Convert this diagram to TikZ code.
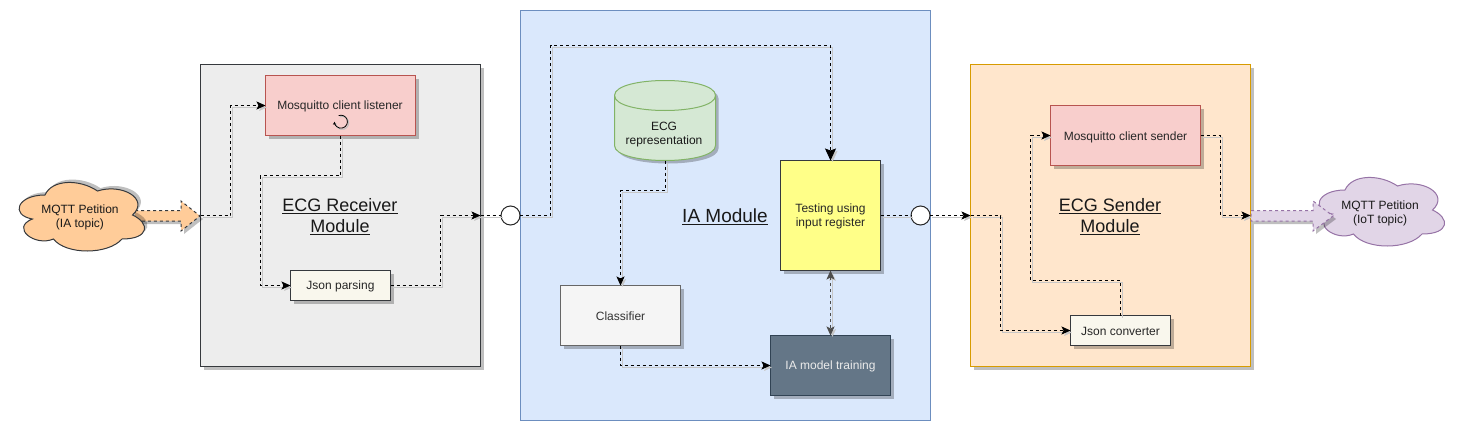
\documentclass[tikz,border=0pt]{standalone}
\usepackage{fontspec}
\setmainfont{Liberation Sans}
\usetikzlibrary{arrows.meta,shadows,calc}
\definecolor{ink}{HTML}{36393D}
\newcommand{\dn}[1]{\raisebox{-1pt}[\height][\depth]{#1}}
\tikzset{
  base/.style={draw=ink,line width=1pt,inner sep=0pt,outer sep=0pt,align=center,font=\fontsize{12}{14}\selectfont,text=black!85},
  shade/.style={drop shadow={shadow xshift=3pt,shadow yshift=-3pt,fill=black,opacity=.25}},
  modulebox/.style={base,shade},
  title/.style={align=center,font=\fontsize{18}{21}\selectfont,text=black!90,inner sep=0pt},
  conn/.style={draw=black,line width=1pt,dash pattern=on 3pt off 3pt,
    preaction={draw=black!22,transform canvas={shift={(2pt,-2pt)}}}},
  tip/.style={-{Stealth[length=9pt,width=8pt,inset=2pt]}},
  bigtip/.style={-{Stealth[length=12pt,width=11pt,inset=2pt]}},
  bothtip/.style={{Stealth[length=9pt,width=8pt,inset=2pt]}-{Stealth[length=9pt,width=8pt,inset=2pt]}},
  port/.style={circle,draw=black!85,fill=white,line width=1pt,minimum size=19pt,inner sep=0pt,outer sep=0pt},
  cloudtext/.style={align=center,font=\fontsize{12}{14}\selectfont,inner sep=0pt,text=black!90},
  blockarrow/.style={line width=1pt,dash pattern=on 3pt off 3pt},
}
\newcommand{\cloudpath}{(25,25) .. controls (5,25) and (0,50) .. (16,55)
 .. controls (0,66) and (18,90) .. (31,80)
 .. controls (40,100) and (70,100) .. (80,80)
 .. controls (100,80) and (100,60) .. (87.5,50)
 .. controls (100,30) and (80,10) .. (62.5,20)
 .. controls (50,5) and (30,5) .. (25,25) -- cycle}
\begin{document}
\begin{tikzpicture}[x=1pt,y=-1pt]
\useasboundingbox (0,0) rectangle (1461,431);
\fill[white] (0,0) rectangle (1461,431);

% module boxes
\node[modulebox,fill=black!7,minimum width=280pt,minimum height=302pt] (recv) at (340.5,215.5) {};
\node[base,fill={rgb,255:red,218;green,232;blue,252},draw={rgb,255:red,108;green,142;blue,191},minimum width=410pt,minimum height=410pt] (ia) at (725.5,215.5) {};
\node[modulebox,fill={rgb,255:red,255;green,230;blue,204},draw={rgb,255:red,215;green,155;blue,0},minimum width=280pt,minimum height=302pt] (send) at (1110.5,215.5) {};

% free ends on module borders
\coordinate (recvIn) at (200.5,215.5);
\coordinate (recvOut) at (480.5,215.5);
\coordinate (sendIn) at (970.5,215.5);
\coordinate (sendOut) at (1250.5,215.5);

% left block arrow and cloud
\fill[black,opacity=.25,shift={(3,3)}] (135,210.5) -- (181,210.5) -- (181,201) -- (200,216) -- (181,231) -- (181,221) -- (135,221) -- cycle;
\filldraw[fill={rgb,255:red,255;green,204;blue,153},draw=ink,blockarrow] (135,210.5) -- (181,210.5) -- (181,201) -- (200,216) -- (181,231) -- (181,221) -- (135,221) -- cycle;
\begin{scope}[shift={(10,175)},x=1.4pt,y=-.8pt]
 \fill[black,opacity=.25,shift={(2.1,-3.6)}] \cloudpath;
 \filldraw[fill={rgb,255:red,255;green,204;blue,153},draw=ink,line width=1pt] \cloudpath;
\end{scope}
\node[cloudtext] (cloudA) at (80,217) {MQTT Petition\\(IA topic)};

% right cloud and block arrow
\begin{scope}[shift={(1310,170)},x=1.4pt,y=-.8pt]
 \filldraw[fill={rgb,255:red,225;green,213;blue,231},draw={rgb,255:red,150;green,115;blue,166},line width=1pt] \cloudpath;
\end{scope}
\fill[black,opacity=.25,shift={(3,3)}] (1251,210.5) -- (1313,210.5) -- (1313,201) -- (1333,216) -- (1313,231) -- (1313,221) -- (1251,221) -- cycle;
\filldraw[fill={rgb,255:red,225;green,213;blue,231},draw={rgb,255:red,150;green,115;blue,166},blockarrow] (1251,210.5) -- (1313,210.5) -- (1313,201) -- (1333,216) -- (1313,231) -- (1313,221) -- (1251,221) -- cycle;
\node[cloudtext] (cloudB) at (1380,213) {MQTT Petition\\(IoT topic)};

% inner nodes of the receiver
\node[modulebox,fill={rgb,255:red,248;green,206;blue,204},draw={rgb,255:red,184;green,84;blue,80},minimum width=150pt,minimum height=60pt] (listen) at (340.5,105.5) {};
\node[font=\fontsize{12}{14}\selectfont,text=black!85,inner sep=0pt] (listenText) at (340,106.5) {Mosquitto client listener};
\node[modulebox,fill={rgb,255:red,249;green,247;blue,237},minimum width=100pt,minimum height=30pt] (json) at (340.5,285.5) {\dn{Json parsing}};
\coordinate (loopA) at (338.7,115.6);
\draw[black!25,line width=1pt,transform canvas={shift={(1.2pt,-1.2pt)}}] (loopA) arc[start angle=250,end angle=540,radius=6.5];
\draw[black,line width=.8pt,-{Stealth[length=3pt,width=3pt]}] (loopA) arc[start angle=250,end angle=540,radius=6.5];

\node[title] (recvTitle) at (340,216.5) {\underline{ECG Receiver}\\\underline{Module}};

% inner nodes of the IA module
\fill[black,opacity=.25,shift={(3,3)}] (614.5,95.5) .. controls (614.5,75.5) and (715.5,75.5) .. (715.5,95.5) -- (715.5,145.5) .. controls (715.5,165.5) and (614.5,165.5) .. (614.5,145.5) -- cycle;
\filldraw[fill={rgb,255:red,213;green,232;blue,212},draw={rgb,255:red,130;green,179;blue,102},line width=1pt] (614.5,95.5) .. controls (614.5,75.5) and (715.5,75.5) .. (715.5,95.5) -- (715.5,145.5) .. controls (715.5,165.5) and (614.5,165.5) .. (614.5,145.5) -- cycle;
\draw[draw={rgb,255:red,130;green,179;blue,102},line width=1pt] (614.5,95.5) .. controls (614.5,115.5) and (715.5,115.5) .. (715.5,95.5);
\node[minimum width=101pt,minimum height=80pt,inner sep=0pt,outer sep=0pt] (cyl) at (665,120.5) {};
\node[cloudtext] (cylText) at (664,134.5) {ECG\\representation};

\node[modulebox,fill={rgb,255:red,245;green,245;blue,245},draw={rgb,255:red,102;green,102;blue,102},text={rgb,255:red,51;green,51;blue,51},minimum width=120pt,minimum height=60pt] (clf) at (620.5,315.5) {\dn{Classifier}};
\node[modulebox,fill={rgb,255:red,255;green,255;blue,136},minimum width=100pt,minimum height=110pt] (test) at (830.5,215.5) {\dn{Testing using}\\\dn{input register}};
\node[modulebox,fill={rgb,255:red,100;green,118;blue,135},draw={rgb,255:red,49;green,67;blue,84},text=white!92!black,minimum width=120pt,minimum height=60pt] (train) at (830.5,365.5) {\dn{IA model training}};
\node[title,font=\fontsize{19}{21}\selectfont] (iaTitle) at (725,217) {\underline{IA Module}};

% inner nodes of the sender
\node[modulebox,fill={rgb,255:red,248;green,206;blue,204},draw={rgb,255:red,184;green,84;blue,80},minimum width=150pt,minimum height=60pt] (msend) at (1125.5,135.5) {\dn{\dn{Mosquitto client sender}}};
\node[modulebox,fill={rgb,255:red,249;green,247;blue,237},minimum width=100pt,minimum height=30pt] (jconv) at (1120.5,330.5) {\dn{Json converter}};
\node[title] (sendTitle) at (1110,216.5) {\underline{ECG Sender}\\\underline{Module}};

% ports
\node[port] (p1) at (510.5,215.5) {};
\node[port] (p2) at (920.5,215.5) {};

% connectors
\draw[conn,tip] (recvIn) -- (230.5,215.5) |- (listen.west);
\draw[conn,tip] (listen.south) |- (260.5,175.5) |- (json.west);
\draw[conn,tip] (json.east) -| (440.5,215.5) -- (recvOut);
\draw[conn] (recvOut) -- (p1.west);
\draw[conn,bigtip] (p1.east) -- (550.5,215.5) |- (830.5,45.5) -- (test.north);
\draw[conn,tip] (cyl.south) |- (620.5,190.5) -- (clf.north);
\draw[conn,tip] (clf.south) |- (train.west);
\draw[conn,bothtip,draw=black!70] (test.south) -- (train.north);
\draw[conn] (test.east) -- (p2.west);
\draw[conn,tip] (p2.east) -- (sendIn);
\draw[conn,tip] (sendIn) -- (1000.5,215.5) |- (jconv.west);
\draw[conn,tip] (jconv.north) |- (1030.5,280.5) |- (msend.west);
\draw[conn,tip] (msend.east) -| (1220.5,215.5) -- (sendOut);
\end{tikzpicture}
\end{document}
